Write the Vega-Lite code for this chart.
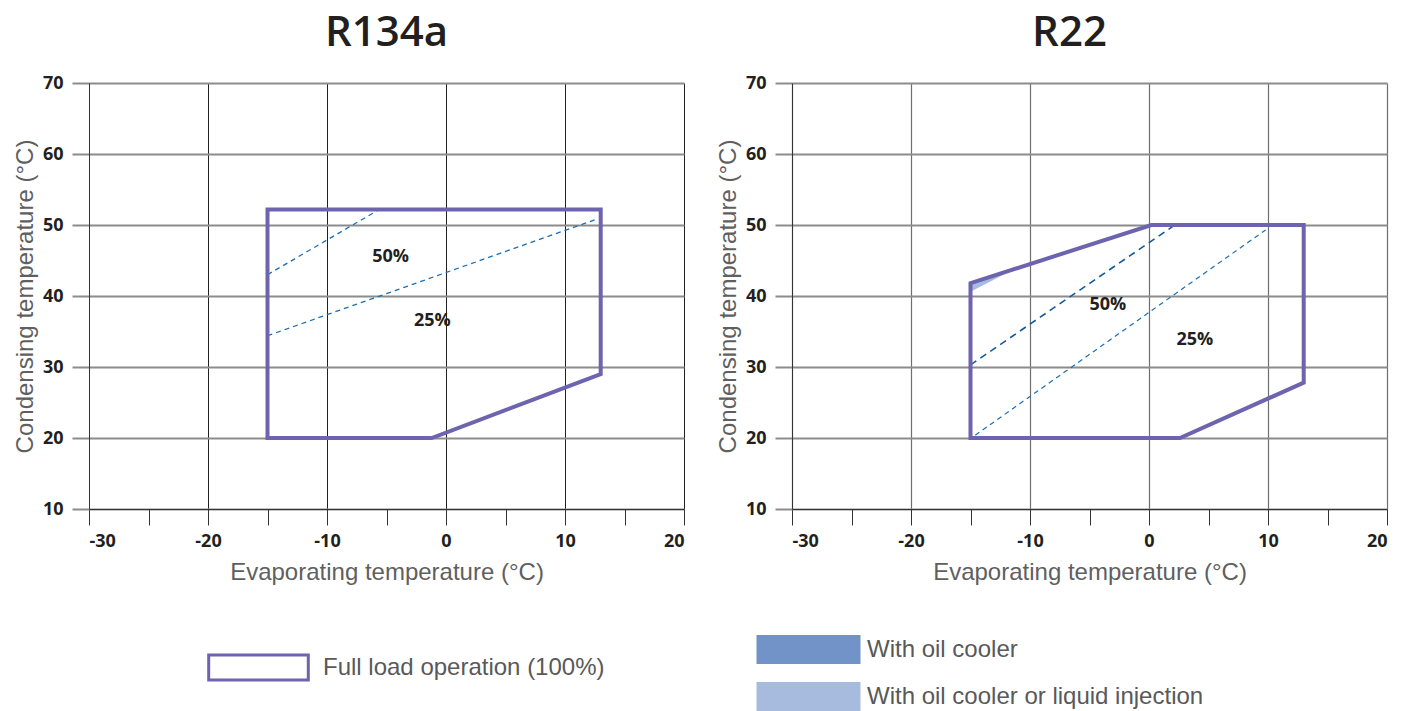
{
  "$schema": "https://vega.github.io/schema/vega-lite/v6.json",
  "background": "white",
  "padding": {"left": 13, "top": 12, "right": 5, "bottom": 0},
  "config": {
    "view": {"stroke": null},
    "axis": {
      "labelFont": "Open Sans", "labelFontWeight": "bold", "labelFontSize": 18, "labelColor": "#231f20",
      "titleFont": "Liberation Sans", "titleFontSize": 24, "titleFontWeight": "normal", "titleColor": "#5f5f5f",
      "domainColor": "#333333", "domainWidth": 1, "grid": true
    }
  },
  "datasets": {
    "r134a_env": [
      {"s": "Full load operation (100%)", "o": 1, "x": -15, "y": 20},
      {"s": "Full load operation (100%)", "o": 2, "x": -1.2, "y": 20},
      {"s": "Full load operation (100%)", "o": 3, "x": 13, "y": 29},
      {"s": "Full load operation (100%)", "o": 4, "x": 13, "y": 52.2},
      {"s": "Full load operation (100%)", "o": 5, "x": -15, "y": 52.2},
      {"s": "Full load operation (100%)", "o": 6, "x": -15, "y": 20}
    ],
    "r134a_dash": [
      {"load": "50%", "x": -15, "y": 43},
      {"load": "50%", "x": -5.8, "y": 52},
      {"load": "25%", "x": -15, "y": 34.4},
      {"load": "25%", "x": 12.8, "y": 50.9}
    ],
    "r134a_lbl": [
      {"t": "50%", "x": -4.65, "y": 45.45},
      {"t": "25%", "x": -1.15, "y": 36.45}
    ],
    "r22_env": [
      {"o": 1, "x": -15, "y": 20},
      {"o": 2, "x": 2.6, "y": 20},
      {"o": 3, "x": 13, "y": 27.8},
      {"o": 4, "x": 13, "y": 50},
      {"o": 5, "x": 0.2, "y": 50},
      {"o": 6, "x": -15, "y": 41.8},
      {"o": 7, "x": -15, "y": 20}
    ],
    "r22_dash": [
      {"load": "50%", "x": -15, "y": 30.3},
      {"load": "50%", "x": 2.0, "y": 49.8},
      {"load": "25%", "x": -14.6, "y": 20.4},
      {"load": "25%", "x": 9.8, "y": 49.3}
    ],
    "r22_fill": [
      {"kind": "With oil cooler or liquid injection", "x": -15, "lo": 40.6, "hi": 41.8},
      {"kind": "With oil cooler or liquid injection", "x": -11.3, "lo": 43.8, "hi": 43.8}
    ],
    "r22_lbl": [
      {"t": "50%", "x": -3.45, "y": 38.8},
      {"t": "25%", "x": 3.85, "y": 33.85}
    ]
  },
  "hconcat": [
    {
      "width": 595,
      "height": 426,
      "title": {"text": "R134a", "anchor": "middle", "font": "Open Sans", "fontSize": 42, "fontWeight": 600, "color": "#231f20", "offset": -14, "baseline": "alphabetic"},
      "layer": [
        {
          "data": {"name": "r134a_dash"},
          "mark": {"type": "line", "color": "#1a6fb5", "strokeWidth": 1.3, "strokeDash": [5, 4]},
          "encoding": {
            "x": {"field": "x", "type": "quantitative", "scale": {"domain": [-30, 20], "nice": false, "zero": false},
              "axis": {"title": "Evaporating temperature (°C)", "values": [-30, -25, -20, -15, -10, -5, 0, 5, 10, 15, 20],
                "labelExpr": "datum.value % 10 === 0 ? '' + datum.value : ''",
                "gridColor": "#231f20", "gridWidth": 1,
                "gridOpacity": {"condition": {"test": "datum.value % 10 !== 0", "value": 0}, "value": 1},
                "tickSize": 16, "tickColor": "#333333", "tickWidth": 1, "labelPadding": 7, "titlePadding": 10}},
            "y": {"field": "y", "type": "quantitative", "scale": {"domain": [10, 70], "nice": false, "zero": false},
              "axis": {"title": "Condensing temperature (°C)", "values": [10, 15, 20, 25, 30, 35, 40, 45, 50, 55, 60, 65, 70],
                "labelExpr": "datum.value % 10 === 0 ? '' + datum.value : ''",
                "gridColor": "#8c8c8c", "gridWidth": 2,
                "gridOpacity": {"condition": {"test": "datum.value % 10 !== 0", "value": 0}, "value": 1},
                "tickSize": 17,
                "tickColor": {"condition": {"test": "datum.value % 10 === 0", "value": "#8c8c8c"}, "value": "#444444"},
                "tickWidth": {"condition": {"test": "datum.value % 10 === 0", "value": 2}, "value": 1},
                "labelPadding": 9, "titlePadding": 5}},
            "detail": {"field": "load", "type": "nominal"}
          }
        },
        {
          "data": {"name": "r134a_env"},
          "mark": {"type": "line", "strokeWidth": 4, "strokeJoin": "miter", "strokeCap": "square"},
          "encoding": {
            "x": {"field": "x", "type": "quantitative"},
            "y": {"field": "y", "type": "quantitative"},
            "order": {"field": "o", "type": "quantitative"},
            "stroke": {"field": "s", "type": "nominal", "scale": {"range": ["#6e63ae"]},
              "legend": {"title": null, "orient": "none", "legendX": 119, "legendY": 571,
                "symbolType": "M-4.15,-1.05H4.15V1.05H-4.15Z", "symbolSize": 576, "symbolStrokeWidth": 3, "symbolFillColor": "white",
                "symbolOffset": 37, "labelOffset": 51,
                "labelFont": "Liberation Sans", "labelFontSize": 24, "labelColor": "#595959", "labelLimit": 500}}
          }
        },
        {
          "data": {"name": "r134a_lbl"},
          "mark": {"type": "text", "font": "Open Sans", "fontWeight": "bold", "fontSize": 18, "color": "#231f20", "align": "center", "baseline": "middle"},
          "encoding": {
            "x": {"field": "x", "type": "quantitative"},
            "y": {"field": "y", "type": "quantitative"},
            "text": {"field": "t", "type": "nominal"}
          }
        }
      ]
    },
    {
      "width": 595,
      "height": 426,
      "title": {"text": "R22", "anchor": "middle", "font": "Open Sans", "fontSize": 42, "fontWeight": 600, "color": "#231f20", "offset": -14, "baseline": "alphabetic", "dx": -20},
      "layer": [
        {
          "data": {"name": "r22_fill"},
          "mark": {"type": "area", "opacity": 1},
          "encoding": {
            "x": {"field": "x", "type": "quantitative", "scale": {"domain": [-30, 20], "nice": false, "zero": false},
              "axis": {"title": "Evaporating temperature (°C)", "values": [-30, -25, -20, -15, -10, -5, 0, 5, 10, 15, 20],
                "labelExpr": "datum.value % 10 === 0 ? '' + datum.value : ''",
                "gridColor": "#6e6e6e", "gridWidth": 1.2,
                "gridOpacity": {"condition": {"test": "datum.value % 10 !== 0", "value": 0}, "value": 1},
                "tickSize": 16, "tickColor": "#333333", "tickWidth": 1, "labelPadding": 7, "titlePadding": 10}},
            "y": {"field": "lo", "type": "quantitative", "scale": {"domain": [10, 70], "nice": false, "zero": false},
              "axis": {"title": "Condensing temperature (°C)", "values": [10, 15, 20, 25, 30, 35, 40, 45, 50, 55, 60, 65, 70],
                "labelExpr": "datum.value % 10 === 0 ? '' + datum.value : ''",
                "gridColor": "#8c8c8c", "gridWidth": 2,
                "gridOpacity": {"condition": {"test": "datum.value % 10 !== 0", "value": 0}, "value": 1},
                "tickSize": 17,
                "tickColor": {"condition": {"test": "datum.value % 10 === 0", "value": "#8c8c8c"}, "value": "#444444"},
                "tickWidth": {"condition": {"test": "datum.value % 10 === 0", "value": 2}, "value": 1},
                "labelPadding": 9, "titlePadding": 5}},
            "y2": {"field": "hi"},
            "fill": {"field": "kind", "type": "nominal",
              "scale": {"domain": ["With oil cooler", "With oil cooler or liquid injection"], "range": ["#7193c8", "#a7bbdf"]},
              "legend": {"title": null, "orient": "none", "legendX": -35, "legendY": 552,
                "symbolType": "M-3.586,-1H3.586V1H-3.586Z", "symbolSize": 841, "symbolStrokeWidth": 0,
                "symbolOffset": 37, "labelOffset": 44, "rowPadding": 18,
                "labelFont": "Liberation Sans", "labelFontSize": 24, "labelColor": "#595959", "labelLimit": 600}}
          }
        },
        {
          "data": {"name": "r22_dash"},
          "transform": [{"filter": "datum.load === '50%'"}],
          "mark": {"type": "line", "color": "#14599a", "strokeWidth": 1.6, "strokeDash": [7, 5]},
          "encoding": {
            "x": {"field": "x", "type": "quantitative"},
            "y": {"field": "y", "type": "quantitative"}
          }
        },
        {
          "data": {"name": "r22_dash"},
          "transform": [{"filter": "datum.load === '25%'"}],
          "mark": {"type": "line", "color": "#1a6fb5", "strokeWidth": 1.2, "strokeDash": [5, 4]},
          "encoding": {
            "x": {"field": "x", "type": "quantitative"},
            "y": {"field": "y", "type": "quantitative"}
          }
        },
        {
          "data": {"name": "r22_env"},
          "mark": {"type": "line", "color": "#6e63ae", "strokeWidth": 4, "strokeJoin": "miter", "strokeCap": "square"},
          "encoding": {
            "x": {"field": "x", "type": "quantitative"},
            "y": {"field": "y", "type": "quantitative"},
            "order": {"field": "o", "type": "quantitative"}
          }
        },
        {
          "data": {"name": "r22_lbl"},
          "mark": {"type": "text", "font": "Open Sans", "fontWeight": "bold", "fontSize": 18, "color": "#231f20", "align": "center", "baseline": "middle"},
          "encoding": {
            "x": {"field": "x", "type": "quantitative"},
            "y": {"field": "y", "type": "quantitative"},
            "text": {"field": "t", "type": "nominal"}
          }
        }
      ]
    }
  ],
  "spacing": 108,
  "bounds": "flush",
  "resolve": {"scale": {"stroke": "independent", "fill": "independent"}}
}
